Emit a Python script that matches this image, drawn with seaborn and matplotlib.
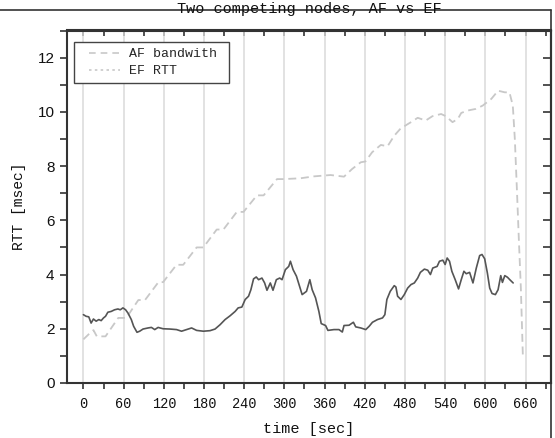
import matplotlib
matplotlib.use("Agg")
import matplotlib.pyplot as plt
import seaborn as sns
import pandas as pd
from matplotlib.lines import Line2D
from matplotlib.legend_handler import HandlerLine2D
from matplotlib.ticker import MultipleLocator

# ---------------- data ----------------
title = "Two competing nodes, AF vs EF"
x_label = "time [sec]"
y_label = "RTT [msec]"
legend_labels = ["AF bandwith", "EF RTT"]
x_ticks = [0, 60, 120, 180, 240, 300, 360, 420, 480, 540, 600, 660]
y_ticks = [0, 2, 4, 6, 8, 10, 12]

t_af = [0, 8, 15, 20, 33, 52, 64, 82, 92, 112, 119, 139, 149, 169, 179, 199, 209,
        229, 239, 259, 269, 289, 299, 324, 344, 369, 389, 401, 414, 421, 431, 444,
        454, 464, 474, 479, 489, 499, 511, 521, 534, 541, 551, 559, 564, 574, 586,
        596, 609, 619, 629, 636, 641, 644, 647, 650, 653, 656]
bw_af = [1.61, 1.8, 1.95, 1.72, 1.72, 2.40, 2.40, 3.06, 3.06, 3.72, 3.72, 4.36, 4.36,
         5.00, 5.00, 5.66, 5.66, 6.31, 6.31, 6.92, 6.92, 7.52, 7.52, 7.55, 7.62, 7.67,
         7.61, 7.89, 8.14, 8.17, 8.51, 8.78, 8.73, 9.12, 9.40, 9.47, 9.62, 9.78, 9.68,
         9.84, 9.92, 9.84, 9.62, 9.74, 9.96, 10.05, 10.11, 10.23, 10.48, 10.78, 10.72,
         10.72, 10.23, 9.0, 7.2, 5.3, 3.5, 1.0]

t_ef = [0, 4, 8, 11.5, 15, 19, 23, 26.5, 30, 33, 36.5, 41.5, 46.5, 51.5, 55, 59, 63,
        66.5, 71.5, 75, 80, 84, 89, 96.5, 101.5, 106.5, 111.5, 119, 129, 139, 146.5,
        154, 161.5, 169, 179, 189, 196.5, 204, 211.5, 219, 226.5, 231, 236.5, 241.5,
        246.5, 250, 254, 258, 261.5, 266.5, 270.5, 274, 279, 283, 288, 293, 296.5,
        301.5, 306.5, 309, 313, 318, 323, 326.5, 333, 338, 341.5, 346.5, 351.5, 355,
        361.5, 365, 374, 381.5, 386.5, 389, 396.5, 403, 406.5, 414, 421.5, 426.5,
        431.5, 439, 446.5, 450, 453, 458, 464, 466.5, 469, 474, 479, 484, 489, 494,
        499, 503, 509, 514, 518, 521.5, 528, 531.5, 536.5, 540, 543, 546.5, 550, 555,
        560, 564, 568, 571.5, 576.5, 581.5, 586.5, 591.5, 595, 599, 603, 606.5, 610,
        615, 619, 623, 625.5, 629, 633, 636.5, 641.5]
rtt_ef = [2.52, 2.46, 2.44, 2.21, 2.36, 2.28, 2.34, 2.30, 2.40, 2.46, 2.61, 2.64, 2.70,
          2.73, 2.70, 2.77, 2.70, 2.58, 2.34, 2.09, 1.87, 1.91, 1.99, 2.03, 2.05, 1.97,
          2.05, 2.00, 1.99, 1.97, 1.91, 1.97, 2.03, 1.94, 1.91, 1.93, 1.99, 2.15, 2.34,
          2.48, 2.64, 2.77, 2.80, 3.08, 3.20, 3.44, 3.84, 3.91, 3.81, 3.87, 3.69, 3.42,
          3.69, 3.42, 3.81, 3.87, 3.81, 4.18, 4.30, 4.49, 4.18, 3.94, 3.54, 3.26, 3.38,
          3.81, 3.44, 3.14, 2.64, 2.19, 2.12, 1.94, 1.97, 1.97, 1.88, 2.12, 2.13, 2.24,
          2.07, 2.03, 1.97, 2.09, 2.24, 2.34, 2.40, 2.52, 3.08, 3.38, 3.59, 3.54, 3.20,
          3.08, 3.26, 3.50, 3.63, 3.69, 3.87, 4.08, 4.20, 4.16, 4.00, 4.24, 4.30, 4.49,
          4.53, 4.37, 4.61, 4.49, 4.12, 3.81, 3.47, 3.81, 4.12, 4.03, 4.08, 3.69, 4.24,
          4.70, 4.74, 4.58, 4.06, 3.50, 3.30, 3.26, 3.44, 3.96, 3.71, 3.96, 3.90, 3.81,
          3.69]

# ---------------- style ----------------
sns.set_theme(style="white")
plt.rcParams['font.family'] = ['Liberation Mono', 'DejaVu Sans Mono']

W, H = 555, 438
fig = plt.figure(figsize=(W / 100, H / 100), dpi=100)
L, R, T, B = 67, 551, 30.5, 383
ax = fig.add_axes([L / W, 1 - B / H, (R - L) / W, (B - T) / H])

df_af = pd.DataFrame({"time": t_af, "value": bw_af})
df_ef = pd.DataFrame({"time": t_ef, "value": rtt_ef})

sns.lineplot(data=df_af, x="time", y="value", ax=ax, color="#c8c8c8",
             lw=1.3, estimator=None, sort=False)
ax.lines[-1].set_linestyle((0, (4.4, 2.6)))
sns.lineplot(data=df_ef, x="time", y="value", ax=ax, color="#555555",
             lw=1.2, estimator=None, sort=False)

ax.set_xlim(-24.5, 698)
ax.set_ylim(0, 13)

ax.set_xticks(x_ticks)
ax.set_yticks(y_ticks)
ax.xaxis.set_minor_locator(MultipleLocator(30))
ax.yaxis.set_minor_locator(MultipleLocator(1))

ax.grid(axis="x", which="major", color="#dadada", lw=1.1)
ax.set_axisbelow(True)

spine_c = "#333333"
for s in ax.spines.values():
    s.set_color(spine_c)
    s.set_linewidth(1.5)

ax.tick_params(axis="x", which="both", direction="out", bottom=True, top=False,
               length=4, width=1.2, color=spine_c, labelsize=9.8, pad=6,
               labelcolor="#111111")
ax.tick_params(axis="y", which="both", direction="out", left=True, right=False,
               length=5, width=1.2, color=spine_c, labelsize=11, pad=4,
               labelcolor="#111111")
for lab in ax.get_yticklabels():
    lab.set_fontfamily(["Liberation Sans", "DejaVu Sans"])

top = ax.secondary_xaxis("top")
top.set_xticks(x_ticks)
top.xaxis.set_minor_locator(MultipleLocator(30))
top.tick_params(which="both", direction="in", length=4, width=1.2, color=spine_c,
                labeltop=False)
top.spines["top"].set_color(spine_c)
top.spines["top"].set_linewidth(1.5)

right = ax.secondary_yaxis("right")
right.set_yticks(y_ticks)
right.yaxis.set_minor_locator(MultipleLocator(1))
right.tick_params(which="both", direction="in", length=6, width=1.2, color=spine_c,
                  labelright=False)
right.spines["right"].set_color(spine_c)
right.spines["right"].set_linewidth(1.5)

ax.set_xlabel(x_label, fontsize=11, labelpad=8, color="#111111")
ax.set_ylabel(y_label, fontsize=10.5, labelpad=8, color="#111111")

handles = [Line2D([], [], color="#c8c8c8", lw=1.2, ls=(0, (4, 3))),
           Line2D([], [], color="#c8c8c8", lw=1.2, ls=(0, (1.5, 2)))]
leg_w = 155 / (R - L)
leg_top = (B - 42) / (B - T)
leg = ax.legend(handles, legend_labels, loc="upper left",
                bbox_to_anchor=((74 - L) / (R - L), leg_top - 0.1, leg_w, 0.1),
                mode="expand", borderaxespad=0, fontsize=9.5, frameon=True,
                fancybox=False, framealpha=1, edgecolor="#444444",
                handlelength=3.7, labelspacing=0.38, borderpad=0.45,
                handletextpad=0.0,
                handler_map={Line2D: HandlerLine2D(numpoints=2, marker_pad=0.68)})
leg.get_frame().set_linewidth(1.0)

# figure frame (top line + right line) and clipped title
fig.add_artist(Line2D([0, R / W], [1 - 9.5 / H, 1 - 9.5 / H],
                      transform=fig.transFigure, color=spine_c, lw=1.2))
fig.add_artist(Line2D([R / W, R / W], [1 - 9.5 / H, 0],
                      transform=fig.transFigure, color=spine_c, lw=1.2))
fig.text((L + R) / 2 / W, 1 - 13 / H, title, ha="center", va="baseline",
         fontsize=11, color="#111111")

fig.savefig("out.png", dpi=100)
